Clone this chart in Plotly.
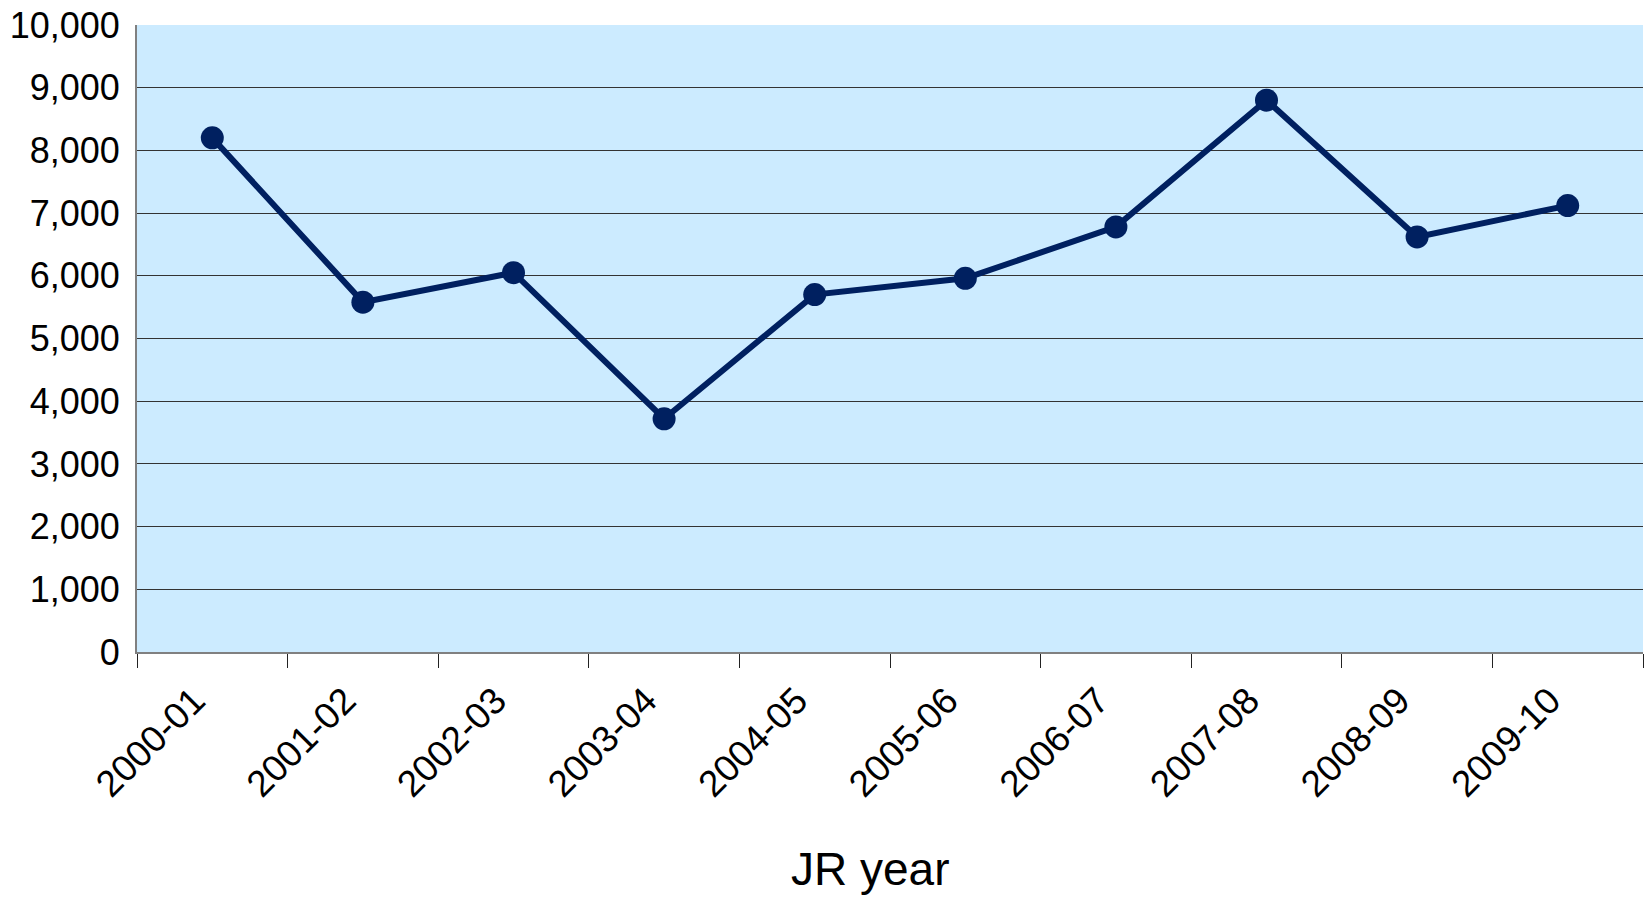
import plotly.graph_objects as go

categories = ["2000-01", "2001-02", "2002-03", "2003-04", "2004-05",
              "2005-06", "2006-07", "2007-08", "2008-09", "2009-10"]
values = [8200, 5580, 6050, 3720, 5700, 5960, 6780, 8800, 6620, 7120]

FONT = "Liberation Sans, Arial, sans-serif"

fig = go.Figure()
fig.add_trace(go.Scatter(
    x=categories, y=values, mode="lines+markers",
    line=dict(color="#002060", width=6),
    marker=dict(color="#002060", size=23),
    showlegend=False, cliponaxis=False,
))

fig.update_layout(
    width=1645, height=899,
    margin=dict(l=137, r=2, t=25, b=247),
    paper_bgcolor="white",
    plot_bgcolor="#CCEBFF",
    font=dict(family=FONT, size=36, color="black"),
    xaxis=dict(
        type="category",
        tickson="boundaries",
        ticks="outside", ticklen=14, tickcolor="#222222", tickwidth=1,
        tickangle=-45,
        ticklabelshift=-18, ticklabelstandoff=10,
        showgrid=False,
        showline=True, linecolor="#808080", linewidth=2,
        tickfont=dict(size=37, family=FONT),
        range=[-0.5, 9.5],
    ),
    yaxis=dict(
        range=[0, 10000], dtick=1000, tickformat=",d",
        showgrid=True, gridcolor="#333333", gridwidth=1,
        zeroline=False,
        showline=True, linecolor="#808080", linewidth=2,
        ticks="outside", ticklen=8, tickcolor="rgba(0,0,0,0)",
        tickfont=dict(size=36, family=FONT),
    ),
    annotations=[dict(
        text="JR year", xref="paper", yref="paper",
        x=0.487, y=0, yshift=-217, xanchor="center", yanchor="middle",
        showarrow=False, font=dict(size=46, family=FONT, color="black"),
    )],
)

fig.write_html("out.html")
